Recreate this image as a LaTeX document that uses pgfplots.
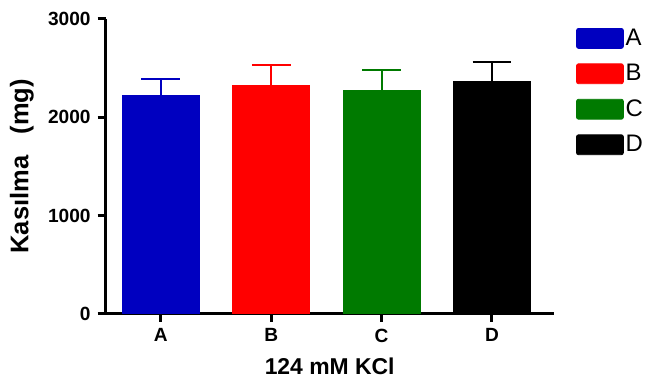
\documentclass[border=0pt]{standalone}
\usepackage{pgfplots}
\pgfplotsset{compat=1.18}
\usepackage{fontspec}
\setmainfont{Liberation Sans}
\definecolor{cA}{RGB}{0,0,192}
\definecolor{cB}{RGB}{255,0,0}
\definecolor{cC}{RGB}{0,122,0}
\definecolor{cD}{RGB}{0,0,0}
\begin{document}
\begin{tikzpicture}
\begin{axis}[
  width=225pt, height=148pt, scale only axis,
  clip=false,
  xmin=-0.5, xmax=3.56, ymin=0, ymax=3000,
  axis x line*=bottom, axis y line*=left,
  axis line style={line width=1.5pt},
  ytick={0,1000,2000,3000},
  xtick={0,1,2,3}, xticklabels={A,B,C,D},
  tick style={line width=1.5pt, black},
  major tick length=4pt,
  tick align=outside,
  /pgf/number format/assume math mode=true,
  /pgf/number format/set thousands separator={},
  ticklabel style={font=\bfseries\fontsize{9.6}{10}\selectfont},
  xlabel={124 mM KCl}, ylabel={Kasılma\ \ \ (mg)},
  xlabel style={font=\bfseries\fontsize{11.5}{12}\selectfont, at={(axis description cs:0.5,-0.179)}, anchor=center},
  ylabel style={font=\bfseries\fontsize{12.8}{13}\selectfont, at={(axis description cs:-0.187,0.5)}, anchor=center},
  ybar, bar width=38.5pt, bar shift=0pt,
  error bars/y dir=plus, error bars/y explicit,
  legend style={at={(axis description cs:1.049,0.975)}, anchor=north west,
    draw=none, fill=none, font=\fontsize{12}{13}\selectfont,
    row sep=6pt, inner sep=0pt,
    nodes={inner sep=1pt}},
  legend cell align=left,
  legend image code/.code={\fill[#1, rounded corners=1pt] (0pt,-5pt) rectangle (23.5pt,5pt);},
]
\addplot[fill=cA, draw=cA, error bars/error bar style={line width=1pt, cA}, error bars/error mark options={rotate=90, mark size=9.75pt, line width=1pt, cA}]
  coordinates {(0,2219) +- (0,172)};
\addplot[fill=cB, draw=cB, error bars/error bar style={line width=1pt, cB}, error bars/error mark options={rotate=90, mark size=9.75pt, line width=1pt, cB}]
  coordinates {(1,2320) +- (0,213)};
\addplot[fill=cC, draw=cC, error bars/error bar style={line width=1pt, cC}, error bars/error mark options={rotate=90, mark size=9.75pt, line width=1pt, cC}]
  coordinates {(2,2270) +- (0,212)};
\addplot[fill=cD, draw=cD, error bars/error bar style={line width=1pt, cD}, error bars/error mark options={rotate=90, mark size=9.75pt, line width=1pt, cD}]
  coordinates {(3,2361) +- (0,202)};
\legend{A,B,C,D}
\path (rel axis cs:-0.2356,-0.2432) rectangle (rel axis cs:1.1978,1.0642);
\end{axis}
\end{tikzpicture}
\end{document}
